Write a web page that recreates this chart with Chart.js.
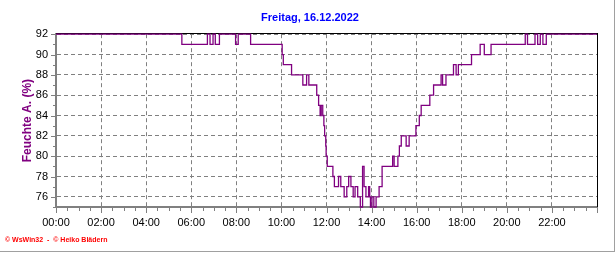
<!DOCTYPE html>
<html>
<head>
<meta charset="utf-8">
<script src="https://cdn.jsdelivr.net/npm/chart.js@4.4.1/dist/chart.umd.min.js"></script>
<style>
  html, body { margin: 0; padding: 0; background: #fff; }
  #wrap { width: 614px; height: 251px; border-right: 1px solid #a0a0a0; border-bottom: 1px solid #a0a0a0; }
  canvas { display: block; }
</style>
</head>
<body>
<div id="wrap"><canvas id="feuchteChart" width="614" height="251"></canvas></div>
<script>
// Zeitpunkte, an denen sich der Wert ändert (Stufenlinie)
const changeTimes = [
  '00:00', '05:35', '06:43', '06:50', '06:58', '07:04', '07:15', '07:58', '08:05', '08:38',
  '10:02', '10:05', '10:27', '10:57', '11:07', '11:13', '11:34', '11:39', '11:43', '11:46',
  '11:50', '11:53', '11:55', '11:58', '11:59', '12:02', '12:17', '12:21', '12:32', '12:38',
  '12:47', '12:54', '12:59', '13:05', '13:11', '13:16', '13:23', '13:30', '13:36', '13:40',
  '13:45', '13:52', '13:55', '13:57', '14:01', '14:06', '14:12', '14:20', '14:28', '14:56',
  '15:00', '15:10', '15:14', '15:19', '15:32', '15:40', '15:58', '16:07', '16:12', '16:35',
  '16:45', '17:05', '17:09', '17:18', '17:38', '17:45', '17:51', '18:26', '18:49', '19:00',
  '19:18', '20:49', '20:55', '21:15', '21:22', '21:29', '21:36', '21:45', '24:00'
];
const humidity = [
  92, 91, 92, 91, 92, 91, 92, 91, 92, 91,
  90, 89, 88, 87, 88, 87, 86, 85, 84, 85,
  84, 83, 82, 81, 80, 79, 78, 77, 78, 77,
  76, 77, 78, 77, 76, 77, 76, 75, 79, 77,
  76, 77, 76, 75, 76, 75, 76, 77, 79, 80,
  79, 80, 81, 82, 81, 82, 83, 84, 85, 86,
  87, 88, 87, 88, 89, 88, 89, 90, 91, 90,
  91, 92, 91, 92, 91, 92, 91, 92, 92
];
const hourLabels = ['00:00', '02:00', '04:00', '06:00', '08:00', '10:00',
                    '12:00', '14:00', '16:00', '18:00', '20:00', '22:00'];
const yTicks = [76, 78, 80, 82, 84, 86, 88, 90, 92];
const titleText = 'Freitag, 16.12.2022';
const footerText = '© WsWin32  -  © Heiko Blädern';

function toMinutes(s) {
  const [h, m] = s.split(':').map(Number);
  return h * 60 + m;
}

const points = changeTimes.map((t, i) => ({ x: toMinutes(t), y: humidity[i] }));

const gridColor = '#808080';
const fontFamily = 'Arial, "Liberation Sans", sans-serif';

const framePlugin = {
  id: 'frame',
  beforeDatasetsDraw(chart) {
    const { ctx, chartArea: a } = chart;
    ctx.save();
    ctx.strokeStyle = '#000';
    ctx.lineWidth = 1;
    ctx.beginPath();
    ctx.moveTo(a.left, Math.floor(a.top) - 0.5);
    ctx.lineTo(a.right + 1, Math.floor(a.top) - 0.5);
    ctx.moveTo(Math.round(a.right) + 0.5, a.top - 1);
    ctx.lineTo(Math.round(a.right) + 0.5, a.bottom);
    ctx.stroke();
    ctx.restore();
  },
  afterDraw(chart) {
    const { ctx, chartArea: a, scales } = chart;
    ctx.save();
    ctx.strokeStyle = gridColor;
    ctx.lineWidth = 1;
    ctx.beginPath();
    for (let m = 0; m <= 1440; m += 30) {
      const x = Math.round(scales.x.getPixelForValue(m)) + 0.5;
      ctx.moveTo(x, a.bottom + 1);
      ctx.lineTo(x, a.bottom + (m % 120 === 0 ? 6 : 4));
    }
    for (let v = 75; v <= 92; v++) {
      const y = Math.round(scales.y.getPixelForValue(v)) + 0.5;
      ctx.moveTo(a.left - 1, y);
      ctx.lineTo(a.left - (v % 2 === 0 ? 5 : 3), y);
    }
    ctx.stroke();

    // Titel
    ctx.fillStyle = '#0000ff';
    ctx.font = 'bold 11px ' + fontFamily;
    ctx.textAlign = 'center';
    ctx.textBaseline = 'middle';
    ctx.fillText(titleText, 310, 18);

    // Fußzeile
    ctx.fillStyle = '#ff0000';
    ctx.font = 'bold 7px ' + fontFamily;
    ctx.textAlign = 'left';
    ctx.fillText(footerText, 5, 240);
    ctx.restore();
  }
};

new Chart(document.getElementById('feuchteChart'), {
  type: 'line',
  data: {
    datasets: [{
      data: points,
      borderColor: '#800080',
      borderWidth: 1.3,
      pointRadius: 0,
      stepped: true,
      fill: false,
      clip: 4
    }]
  },
  options: {
    responsive: false,
    animation: false,
    layout: { padding: { left: 0, right: 17, top: 34.2, bottom: 0 } },
    plugins: {
      legend: { display: false },
      tooltip: { enabled: false },
      title: { display: false }
    },
    scales: {
      x: {
        type: 'linear',
        min: 0,
        max: 1440,
        afterBuildTicks: axis => { axis.ticks = hourLabels.map((_, i) => ({ value: i * 120 })); },
        afterFit: axis => { axis.height = 44; },
        ticks: {
          autoSkip: false,
          maxRotation: 0,
          padding: 9,
          color: '#000',
          font: { family: fontFamily, size: 11 },
          callback: v => hourLabels[v / 120] || ''
        },
        grid: {
          color: gridColor,
          lineWidth: 1,
          drawTicks: false
        },
        border: { display: true, color: gridColor, width: 2, dash: [4, 3] }
      },
      y: {
        min: 75,
        max: 92,
        afterBuildTicks: axis => { axis.ticks = yTicks.map(v => ({ value: v })); },
        afterFit: axis => { axis.width = 56; },
        ticks: {
          padding: 8,
          color: '#000',
          font: { family: fontFamily, size: 11 }
        },
        grid: {
          color: gridColor,
          lineWidth: 1,
          drawTicks: false
        },
        border: { display: true, color: gridColor, width: 2, dash: [4, 3] },
        title: {
          display: true,
          text: 'Feuchte A. (%)',
          color: '#800080',
          font: { family: fontFamily, size: 12, weight: 'bold' },
          padding: { top: 20, bottom: 0 }
        }
      }
    }
  },
  plugins: [framePlugin]
});
</script>
</body>
</html>
